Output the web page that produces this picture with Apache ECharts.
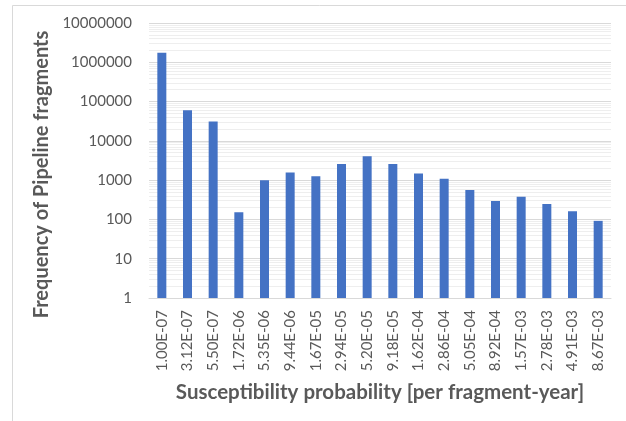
<!DOCTYPE html>
<html><head><meta charset="utf-8">
<script src="https://cdn.jsdelivr.net/npm/echarts@6/dist/echarts.min.js"></script>
<style>html,body{margin:0;padding:0;background:#fff}#c{width:626px;height:421px}</style>
</head><body><div id="c"></div>
<script>
const categories = ["1.00E-07","3.12E-07","5.50E-07","1.72E-06","5.35E-06","9.44E-06","1.67E-05","2.94E-05","5.20E-05","9.18E-05","1.62E-04","2.86E-04","5.05E-04","8.92E-04","1.57E-03","2.78E-03","4.91E-03","8.67E-03"];
const frequencies = [1750000, 60000, 31000, 152, 1000, 1570, 1260, 2560, 4080, 2560, 1480, 1090, 560, 295, 380, 247, 161, 92];
const minorGridValues = [];
for (let e = 0; e < 7; e++) for (let m = 2; m <= 9; m++) minorGridValues.push(m * Math.pow(10, e));

const font = "Lato, 'Noto Sans', sans-serif";
const chart = echarts.init(document.getElementById('c'), null, {renderer: 'canvas'});
chart.setOption({
  animation: false,
  backgroundColor: '#fff',
  graphic: [
    {type: 'line', shape: {x1: 12.5, y1: 5.5, x2: 626, y2: 5.5}, style: {stroke: '#d9d9d9', lineWidth: 1}, silent: true},
    {type: 'line', shape: {x1: 12.5, y1: 5.5, x2: 12.5, y2: 421}, style: {stroke: '#d9d9d9', lineWidth: 1}, silent: true}
  ],
  grid: {left: 149, right: 15, top: 23, bottom: 123},
  xAxis: {
    type: 'category',
    data: categories,
    name: 'Susceptibility probability [per fragment-year]',
    nameLocation: 'middle',
    nameGap: 84,
    nameTextStyle: {fontFamily: font, fontSize: 20.5, fontWeight: 'bold', color: '#595959'},
    axisLine: {lineStyle: {color: '#d9d9d9', width: 1}},
    axisTick: {show: false},
    axisLabel: {rotate: 90, margin: 12, fontFamily: font, fontSize: 15, color: '#595959', interval: 0}
  },
  yAxis: {
    type: 'log',
    logBase: 10,
    min: 1,
    max: 10000000,
    interval: 1,
    name: 'Frequency of Pipeline fragments',
    nameLocation: 'middle',
    nameGap: 94,
    nameTextStyle: {fontFamily: font, fontSize: 20, fontWeight: 'bold', color: '#595959', padding: [0, 28, 0, 0]},
    axisLine: {show: false},
    axisTick: {show: false},
    axisLabel: {margin: 17, fontFamily: font, fontSize: 15, color: '#595959', formatter: v => String(Math.round(v))},
    splitLine: {lineStyle: {color: '#d9d9d9', width: 1}}
  },
  series: [
    {
      type: 'line',
      data: [],
      z: 1,
      silent: true,
      markLine: {
        z: 1,
        silent: true,
        symbol: 'none',
        label: {show: false},
        lineStyle: {color: '#eeeeee', width: 1, type: 'solid'},
        data: minorGridValues.map(v => ({yAxis: v}))
      }
    },
    {
      type: 'bar',
      data: frequencies,
      barWidth: 9,
      z: 3,
      itemStyle: {color: '#4472C4'}
    }
  ]
});
</script></body></html>
